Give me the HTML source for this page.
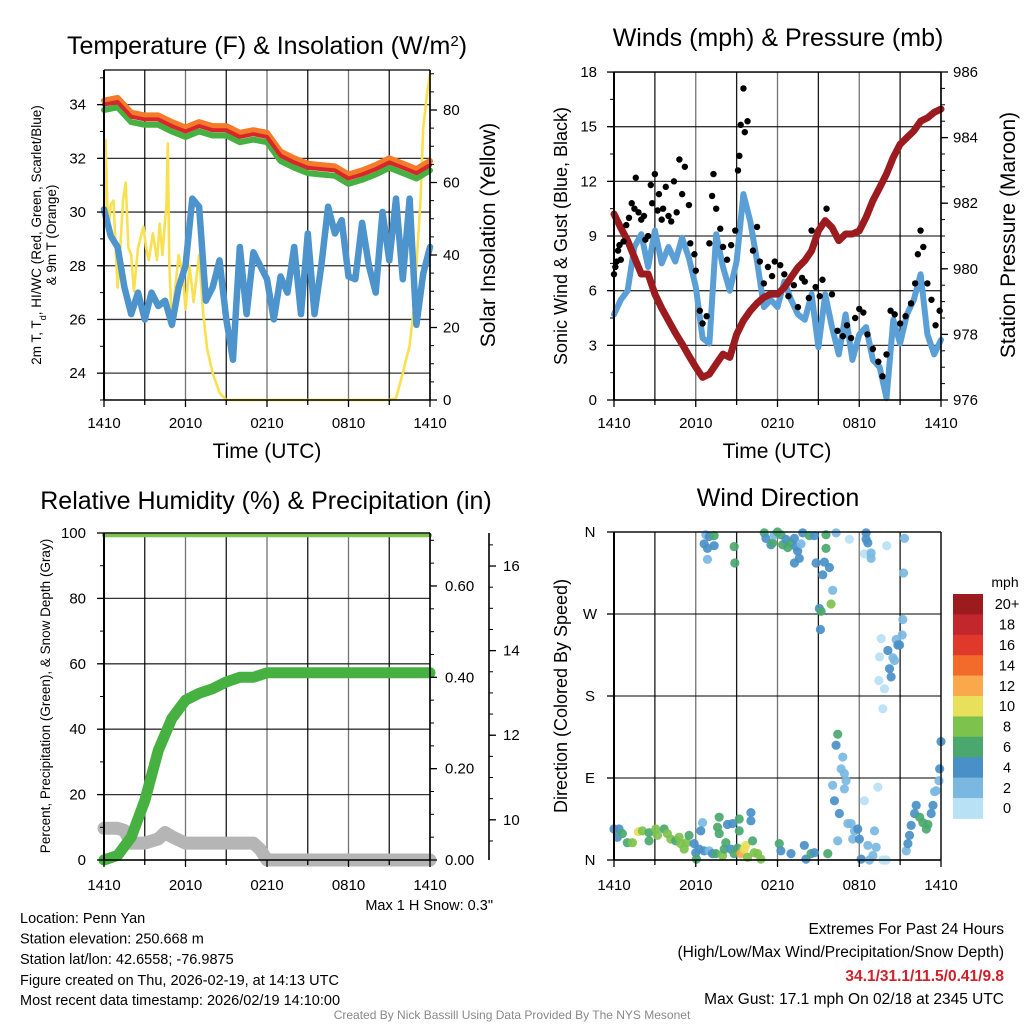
<!DOCTYPE html>
<html><head><meta charset="utf-8">
<style>
html,body{margin:0;padding:0;background:#fff;}
svg{display:block;font-family:"Liberation Sans",Arial,sans-serif;}
</style></head>
<body>
<svg id="fig" width="1024" height="1024" viewBox="0 0 1024 1024" xmlns="http://www.w3.org/2000/svg">
<rect width="1024" height="1024" fill="#fff"/>
<!-- titles -->
<text x="267" y="54" font-size="25" text-anchor="middle">Temperature (F) &amp; Insolation (W/m<tspan baseline-shift="super" font-size="15">2</tspan>)</text>
<text x="778" y="46" font-size="25" text-anchor="middle">Winds (mph) &amp; Pressure (mb)</text>
<text x="266" y="509" font-size="25" text-anchor="middle">Relative Humidity (%) &amp; Precipitation (in)</text>
<text x="778" y="506" font-size="25" text-anchor="middle">Wind Direction</text>
<!-- axis titles -->
<text x="267" y="458" font-size="21" text-anchor="middle">Time (UTC)</text>
<text x="777" y="458" font-size="21" text-anchor="middle">Time (UTC)</text>
<text transform="translate(41,235) rotate(-90)" font-size="13.5" text-anchor="middle">2m T, T<tspan baseline-shift="sub" font-size="9">d</tspan>, HI/WC (Red, Green, Scarlet/Blue)</text>
<text transform="translate(56,235) rotate(-90)" font-size="13.5" text-anchor="middle">&amp; 9m T (Orange)</text>
<text transform="translate(495,235) rotate(-90)" font-size="21" text-anchor="middle">Solar Insolation (Yellow)</text>
<text transform="translate(567,236) rotate(-90)" font-size="18" text-anchor="middle">Sonic Wind &amp; Gust (Blue, Black)</text>
<text transform="translate(1015,235) rotate(-90)" font-size="21" text-anchor="middle">Station Pressure (Maroon)</text>
<text transform="translate(50,696) rotate(-90)" font-size="13.5" text-anchor="middle">Percent, Precipitation (Green), &amp; Snow Depth (Gray)</text>
<text transform="translate(567,696) rotate(-90)" font-size="18" text-anchor="middle">Direction (Colored By Speed)</text>
<!-- footer texts -->
<text x="493" y="910" font-size="14.5" text-anchor="end">Max 1 H Snow: 0.3"</text>
<g font-size="14.5">
<text x="20" y="923">Location: Penn Yan</text>
<text x="20" y="943.5">Station elevation: 250.668 m</text>
<text x="20" y="964">Station lat/lon: 42.6558; -76.9875</text>
<text x="20" y="985">Figure created on Thu, 2026-02-19, at 14:13 UTC</text>
<text x="20" y="1005">Most recent data timestamp: 2026/02/19 14:10:00</text>
</g>
<g font-size="15.5" text-anchor="end">
<text x="1004" y="934">Extremes For Past 24 Hours</text>
<text x="1004" y="957">(High/Low/Max Wind/Precipitation/Snow Depth)</text>
<text x="1004" y="981" fill="#d0202a" font-weight="bold">34.1/31.1/11.5/0.41/9.8</text>
<text x="1004" y="1004">Max Gust: 17.1 mph On 02/18 at 2345 UTC</text>
</g>
<text x="512" y="1019" font-size="12" fill="#888" text-anchor="middle">Created By Nick Bassill Using Data Provided By The NYS Mesonet</text>
<g id="layer"></g>
</svg>
<script>
// ===== DATA =====
const timeTickLabels = ["1410","2010","0210","0810","1410"];
const tempHours = [0,1,2,3,4,5,6,7,8,9,10,11,12,13,14,15,16,17,18,19,20,21,22,23,24];
const temp2m = [34.0,34.1,33.55,33.45,33.45,33.2,33.0,33.2,33.05,33.05,32.8,32.9,32.8,32.1,31.85,31.65,31.6,31.55,31.25,31.4,31.6,31.85,31.65,31.45,31.75];
const temp9m = [34.15,34.25,33.7,33.6,33.6,33.35,33.15,33.35,33.2,33.2,32.95,33.05,32.95,32.25,32.0,31.8,31.75,31.7,31.4,31.55,31.75,32.0,31.8,31.6,31.9];
const windChill = [33.8,33.9,33.35,33.25,33.25,33.0,32.8,33.0,32.85,32.85,32.6,32.7,32.6,31.9,31.65,31.45,31.4,31.35,31.05,31.2,31.4,31.65,31.45,31.25,31.55];
const dewpoint = [30.1,29.1,28.7,27.2,26.2,27.0,26.0,27.0,26.5,26.7,25.8,27.2,28.0,30.5,30.2,26.7,27.2,28.2,26.0,24.5,28.7,26.2,28.5,28.0,27.5,26.0,27.6,27.0,28.7,26.2,29.2,26.2,28.0,30.2,29.2,29.7,27.6,27.5,29.6,28.0,27.0,30.0,28.2,30.5,27.5,30.5,25.8,27.7,28.7];
const insolHours = [0,0.12,0.3,0.5,0.7,0.9,1.0,1.2,1.4,1.6,1.8,2.0,2.2,2.5,2.9,3.1,3.3,3.6,3.9,4.1,4.3,4.5,4.6,4.7,4.8,5.0,5.2,5.5,5.8,6.0,6.3,6.6,7.0,7.3,7.6,8.0,8.5,9,21,21.5,22,22.5,22.8,23,23.3,23.5,23.8,24];
const insolation = [47.8,71.7,46,54,55,38.6,31,42,55,60,42,40,30,42,47.8,42,38.6,46,38.6,48.7,40,49.6,54,70.8,38.6,20,29.3,40,34.5,25,37,27,40,24,14,7.4,2,0,0,0.5,7.4,15,25,37,55,75,85,90];
const windSpeed = [4.7,5.5,6.0,8.4,9.1,7.3,9.3,7.5,8.4,7.6,8.9,7.8,6.2,3.4,3.1,9.1,7.3,6.0,7.6,11.3,9.8,7.6,5.1,5.5,5.1,6.5,5.5,4.7,4.4,5.8,2.9,5.8,4.0,2.5,4.7,2.2,3.6,4.0,2.2,1.8,0.1,4.4,3.1,4.7,5.5,6.9,3.6,2.5,3.3];
const pressure = [981.67,981.25,980.86,980.35,979.84,979.84,979.23,978.8,978.42,978.05,977.71,977.35,977.0,976.69,976.79,977.1,977.4,977.3,978.0,978.42,978.72,978.95,979.13,979.23,979.23,979.43,979.74,980.04,980.25,980.55,981.16,981.47,981.26,980.86,981.06,981.06,981.16,981.57,982.08,982.48,982.89,983.4,983.8,984.0,984.2,984.5,984.6,984.77,984.87];
const gustHours = [0.0,0.1,0.2,0.3,0.4,0.5,0.7,0.9,1.1,1.3,1.5,1.6,1.8,2.0,2.2,2.3,2.5,2.7,2.8,3.0,3.2,3.3,3.5,3.6,3.8,4.0,4.2,4.4,4.6,4.8,5.0,5.2,5.5,5.6,5.9,6.0,6.3,6.5,6.8,7.0,7.2,7.3,7.5,7.8,8.0,8.3,8.6,8.9,9.1,9.2,9.3,9.5,9.6,9.8,10.2,10.5,10.7,11.0,11.3,11.6,11.8,12.2,12.5,12.8,13.2,13.5,13.8,14.0,14.3,14.5,14.8,15.1,15.3,15.6,16.0,16.4,16.8,17.1,17.4,17.7,18.0,18.3,18.6,19.0,19.4,19.7,20.0,20.3,20.6,21.0,21.4,21.8,22.1,22.3,22.5,22.7,23.0,23.3,23.6,23.9];
const gustSpeed = [6.9,7.3,7.6,8.2,8.5,7.7,8.7,9.6,10.0,10.8,10.5,12.2,10.3,9.9,10.1,8.8,9.0,11.8,10.8,12.4,10.4,11.3,9.9,10.5,11.7,10.1,9.8,12.0,10.3,13.2,11.3,12.8,10.7,8.6,8.0,7.1,4.9,4.2,4.6,8.6,11.2,12.4,10.5,9.4,8.4,7.7,8.5,9.3,12.6,13.4,15.1,17.1,14.7,15.3,8.2,9.5,7.6,6.4,7.3,6.8,7.6,7.4,6.9,5.7,6.3,5.1,6.7,6.5,5.6,9.3,6.2,5.7,6.6,10.5,5.8,3.8,3.5,4.1,3.4,4.5,5.0,4.8,3.6,2.8,2.1,1.3,2.5,4.9,4.7,4.2,4.6,5.3,6.4,8.0,9.3,8.4,6.4,5.5,4.1,4.9];
const rhHours = [0,24];
const rhValues = [99.3,99.3];
const precip = [0,0.01,0.05,0.13,0.24,0.31,0.35,0.365,0.375,0.39,0.40,0.40,0.41,0.41,0.41,0.41,0.41,0.41,0.41,0.41,0.41,0.41,0.41,0.41,0.41];
const snowHours = [0,1,1.5,2,3,4,4.5,5,6,7,8,9,10,11,11.5,12,13,14,16,18,20,22,24];
const snowDepth = [9.8,9.8,9.75,9.45,9.45,9.55,9.7,9.6,9.45,9.45,9.45,9.45,9.45,9.45,9.3,9.05,9.05,9.05,9.05,9.05,9.05,9.05,9.05];
const dirHours = [0,0.37,0.25,0.61,0.98,1.35,1.79,2.08,2.57,2.57,3.06,3.19,3.68,3.92,4.17,4.53,4.78,4.9,5.15,5.32,5.51,5.88,6.0,6.05,6.25,6.5,6.37,6.62,6.99,7.23,7.48,7.6,7.72,7.72,7.97,8.09,8.21,8.33,8.58,8.7,8.82,9.07,9.19,9.19,9.31,9.68,9.56,9.8,10.05,10.05,10.17,10.29,10.54,10.78,12.13,12.25,12.99,13.97,14.09,14.46,14.71,15.69,16.42,16.05,16.18,16.54,16.79,16.3,16.42,16.67,16.91,17.03,16.91,17.16,17.4,17.52,17.65,17.89,18.01,18.14,18.38,18.63,18.75,19.12,19.0,19.24,19.36,19.73,19.98,21.45,21.57,21.69,21.81,22.06,22.18,22.43,22.67,22.92,23.04,23.28,23.41,23.53,23.65,23.85,23.9,24.0,
 6.74,6.99,7.35,6.62,6.86,7.35,6.86,8.82,8.87,11.03,11.15,11.52,11.64,11.76,12.0,12.25,12.38,12.62,12.75,12.99,13.24,13.36,13.48,13.6,13.24,13.73,13.85,14.34,14.71,14.83,15.32,15.44,15.81,15.56,15.56,16.05,15.93,15.07,15.2,15.15,16.3,17.28,18.5,18.5,18.63,18.38,18.87,18.87,20.02,21.32,21.25,21.2,21.15,20.71,20.83,20.96,20.1,19.61,19.49,20.59,20.47,20.22,20.34,19.44,19.85,19.73];
const dirDegrees = [34,34,25,29,19,19,31,32,21,30,34,27,34,29,23,21,25,18,12,19,27,18,8,1,12,41,32,10,10,7,7,36,47,29,5,12,19,39,12,40,7,13,45,32,7,16,12,3,52,43,21,8,7,1,18,10,7,16,1,7,8,7,21,82,65,51,113,126,138,100,95,87,78,40,40,23,32,34,23,1,65,16,0,32,5,14,80,0,0,10,18,27,38,51,60,47,41,34,39,51,60,75,76,87,100,130,
 357,355,356,347,342,345,330,344,326,359,353,346,348,357,360,357,346,352,343,348,353,344,339,331,326,347,359,356,356,326,313,327,321,357,342,296,281,276,273,253,359,352,359,352,348,336,337,331,345,353,315,264,247,242,236,236,230,243,223,219,222,210,201,197,188,166,151];
const dirSpeed = [5,5,5,7,7,9,11,9,7,7,9,9,7,9,9,7,9,9,9,9,7,5,5,7,5,3,5,5,3,5,7,7,7,7,9,7,7,5,5,5,7,7,7,7,13,11,11,9,5,5,7,9,9,9,7,5,5,5,5,7,5,7,3,3,5,5,3,5,7,3,3,3,3,3,3,3,3,5,5,5,1,3,3,3,3,3,1,1,1,3,5,5,5,5,5,7,7,7,7,5,5,3,3,3,5,5,
 3,5,7,5,5,5,3,7,7,7,5,5,7,3,7,7,7,5,7,7,5,5,5,5,5,3,5,7,5,5,5,5,5,7,7,3,9,5,7,5,3,1,5,5,5,1,3,3,1,3,3,3,3,3,5,5,5,1,1,3,3,5,5,1,1,1];
const speedBinLabels = ["0","2","4","6","8","10","12","14","16","18","20+"];
const speedColors = ["#b9e1f6","#7ab8e2","#4a90c8","#4aa86f","#7dc24d","#e8e05a","#f9a94b","#f26b2a","#e0382b","#c1272d","#9b1b1e"];
const tempTicks = [24,26,28,30,32,34];
const insolTicks = [0,20,40,60,80];
const windTicks = [0,3,6,9,12,15,18];
const presTicks = [976,978,980,982,984,986];
const rhTicks = [0,20,40,60,80,100];
const precipTicks = ["0.00","0.20","0.40","0.60"];
const snowTicks = [10,12,14,16];
const dirTickLabels = ["N","E","S","W","N"];

// ===== helpers =====
const NS = "http://www.w3.org/2000/svg";
const layer = document.getElementById('layer');
function mk(tag, attrs, parent){ const e=document.createElementNS(NS,tag); for(const k in attrs) e.setAttribute(k,attrs[k]); (parent||layer).appendChild(e); return e; }
function halfHours(n){ const a=[]; for(let i=0;i<n;i++) a.push(i*0.5); return a; }

const P1={x0:104,x1:430,yt:70,yb:400};
const P2={x0:614,x1:941,yt:72,yb:400};
const P3={x0:104,x1:430,yt:533,yb:860};
const P4={x0:614,x1:941,yt:532,yb:860};
function xs(P){ return h => P.x0 + h*(P.x1-P.x0)/24; }
const yTemp = v => 400 - (v-23)*26.85;
const yIns = v => 400 - v*3.625;
const yWind = v => 400 - v*18.22;
const yPres = v => 400 - (v-976)*32.8;
const yRH = v => 860 - v*3.27;
const yPrec = v => 860 - v*456.7;
const ySnow = v => 860 - (v-9.05)*42.3;
const yDir = v => 860 - v*328/360;

function grid(P, yvals, name){
  const g=mk('g',{});
  
  
  for(let i=0;i<=8;i++){ const x=P.x0+i*(P.x1-P.x0)/8; mk('line',{x1:x,x2:x,y1:P.yt,y2:P.yb,stroke:'#000','stroke-width':1.3,'stroke-opacity':(i%2?0.9:0.55)},g); }
  yvals.forEach(y=>mk('line',{x1:P.x0,x2:P.x1,y1:y,y2:y,stroke:'#000','stroke-width':1.3,'stroke-opacity':0.8},g));
}
function frameAndTime(P, name, labelY){
  const g=mk('g',{});
  
  
  mk('line',{x1:P.x0,x2:P.x0,y1:P.yt,y2:P.yb,stroke:'#000','stroke-width':2},g);
  mk('line',{x1:P.x0,x2:P.x1,y1:P.yb,y2:P.yb,stroke:'#000','stroke-width':1.5},g);
  for(let i=0;i<=8;i++){ const x=P.x0+i*(P.x1-P.x0)/8; mk('line',{x1:x,x2:x,y1:P.yb,y2:P.yb+(i%2?5:7),stroke:'#000','stroke-width':1.3},g); }
  mk('line',{x1:P.x0,x2:P.x1,y1:P.yt,y2:P.yt,stroke:'#000','stroke-width':1.3},g);
  timeTickLabels.forEach((t,i)=>{ const tx=mk('text',{x:P.x0+i*(P.x1-P.x0)/4,y:labelY,'font-size':15,'text-anchor':'middle'},g); tx.textContent=t;
    
     });
}
function yAxis(x, side, P, ticks, fy, minorStep, lo, hi, name, labelX){
  const g=mk('g',{});
  
  
  mk('line',{x1:x,x2:x,y1:P.yt,y2:P.yb,stroke:'#000','stroke-width':1.6},g);
  const d = side==='left'?-1:1;
  for(let v=lo; v<=hi+1e-9; v+=minorStep){ const y=fy(v); if(y<P.yt-0.5||y>P.yb+0.5) continue; mk('line',{x1:x,x2:x+d*4,y1:y,y2:y,stroke:'#000','stroke-width':1},g); }
  ticks.forEach(t=>{ const y=fy(parseFloat(t)); mk('line',{x1:x,x2:x+d*7,y1:y,y2:y,stroke:'#000','stroke-width':1.3},g);
    const tx=mk('text',{x:labelX,y:y+5,'font-size':15,'text-anchor':side==='left'?'end':'start'},g); tx.textContent=t;
    
     });
}
function line(P, hours, vals, fy, style, name){
  const fx=xs(P);
  const d = hours.map((h,i)=>(i?'L':'M')+fx(h).toFixed(1)+','+fy(vals[i]).toFixed(1)).join('');
  const p=mk('path',Object.assign({d:d,fill:'none','stroke-linejoin':'round','stroke-linecap':'round'},style));
  
  
  return p;
}

// ===== Panel 1 =====
grid(P1, tempTicks.map(yTemp), 'temperature');
const hh = halfHours(49);
line(P1, insolHours, insolation, yIns, {stroke:'#f9e050','stroke-width':2.6}, 'insolation-line');
line(P1, hh, dewpoint, yTemp, {stroke:'#4d93cc','stroke-width':6.5}, 'dewpoint-line');
line(P1, tempHours, temp9m, yTemp, {stroke:'#f47b2a','stroke-width':6}, 'temp-9m-line');
line(P1, tempHours, windChill, yTemp, {stroke:'#46b040','stroke-width':6}, 'wind-chill-line');
line(P1, tempHours, temp2m, yTemp, {stroke:'#d8262a','stroke-width':4}, 'temp-2m-line');
frameAndTime(P1,'temperature',428);
yAxis(P1.x0,'left',P1,tempTicks,yTemp,1,23,35,'temperature-y-axis',86);
yAxis(P1.x1,'right',P1,insolTicks,yIns,5,0,90,'insolation-y-axis',443);

// ===== Panel 2 =====
grid(P2, windTicks.map(yWind), 'winds');
line(P2, hh, windSpeed, yWind, {stroke:'#5a9fd6','stroke-width':6}, 'wind-speed-line');
line(P2, hh, pressure, yPres, {stroke:'#9b1b1e','stroke-width':7}, 'pressure-line');
(function(){ const fx=xs(P2); gustHours.forEach((h,i)=>{ const c=mk('circle',{cx:fx(h),cy:yWind(gustSpeed[i]),r:3.2,fill:'#000'});
  
   }); })();
frameAndTime(P2,'winds',428);
yAxis(P2.x0,'left',P2,windTicks,yWind,1.5,0,18,'wind-y-axis',597);
yAxis(P2.x1,'right',P2,presTicks,yPres,0.5,976,986,'pressure-y-axis',953);

// ===== Panel 3 =====
grid(P3, rhTicks.map(yRH), 'humidity');
line(P3, snowHours, snowDepth, ySnow, {stroke:'#b5b5b5','stroke-width':13}, 'snow-depth-line');
line(P3, tempHours, precip, yPrec, {stroke:'#46b040','stroke-width':11}, 'precipitation-line');
line(P3, rhHours, rhValues, yRH, {stroke:'#7dc24d','stroke-width':4}, 'relative-humidity-line');
frameAndTime(P3,'humidity',890);
yAxis(P3.x0,'left',P3,rhTicks,yRH,10,0,100,'humidity-y-axis',86);
yAxis(P3.x1,'right',P3,precipTicks,yPrec,0.05,0,0.72,'precipitation-y-axis',445);
yAxis(489,'right',P3,snowTicks,ySnow,0.5,9.5,16.5,'snow-depth-y-axis',503);

// ===== Panel 4 =====
grid(P4, [0,90,180,270,360].map(yDir), 'direction');
(function(){ const fx=xs(P4); dirHours.forEach((h,i)=>{ const b=Math.min(10,Math.floor(dirSpeed[i]/2));
  const c=mk('circle',{cx:fx(h),cy:yDir(dirDegrees[i]),r:4.6,fill:speedColors[b],'fill-opacity':0.92});
  
   }); })();
frameAndTime(P4,'direction',890);
(function(){ const g=mk('g',{});
  
  
  mk('line',{x1:P4.x1,x2:P4.x1,y1:P4.yt,y2:P4.yb,stroke:'#000','stroke-width':1.3},g);
  dirTickLabels.forEach((t,i)=>{ const y=yDir(i*90); mk('line',{x1:P4.x0,x2:P4.x0-7,y1:y,y2:y,stroke:'#000','stroke-width':1.3},g);
    const tx=mk('text',{x:590,y:y+5,'font-size':15,'text-anchor':'middle'},g); tx.textContent=t;
    
     }); })();

// colorbar
(function(){ const g=mk('g',{});
  
  
  const top=594, h=20.4;
  const t=mk('text',{x:1005,y:587,'font-size':14,'text-anchor':'middle'},g); t.textContent='mph';
  
  
  for(let i=0;i<11;i++){ const idx=10-i;
    const r=mk('rect',{x:953,y:top+i*h,width:30,height:h+0.5,fill:speedColors[idx]},g);
    
    
    const tx=mk('text',{x:1007,y:top+i*h+h/2+5,'font-size':14.5,'text-anchor':'middle'},g); tx.textContent=speedBinLabels[idx];
    
     } })();
</script>
</body></html>
